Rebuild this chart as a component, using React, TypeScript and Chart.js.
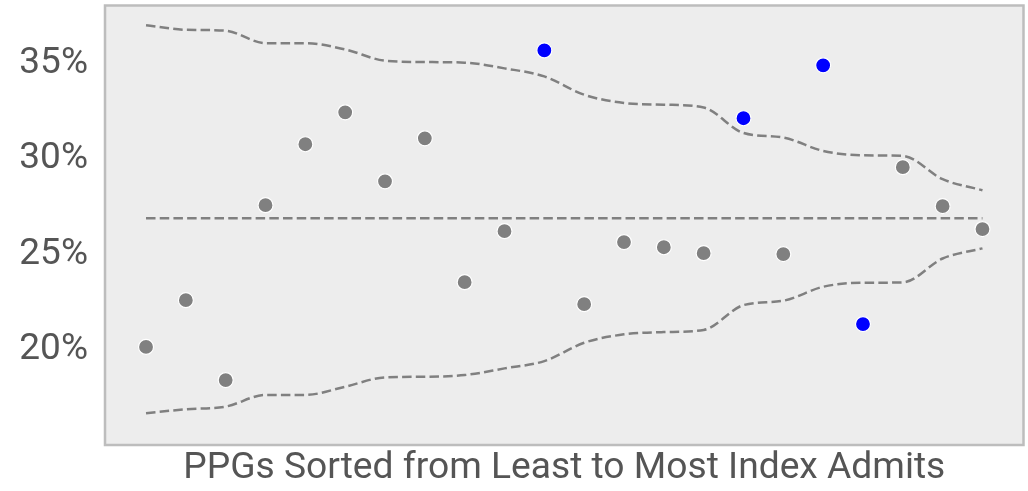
import React, { useEffect, useRef } from "react";
import { Chart, registerables } from "chart.js";

Chart.register(...registerables);

const rates = [
  20.16, 22.61, 18.43, 27.58, 30.77, 32.44, 28.83, 31.08, 23.55, 26.22, 35.68,
  22.4, 25.65, 25.38, 25.07, 32.13, 25.02, 34.9, 21.36, 29.57, 27.53, 26.33,
];
const upperLimit = [
  37.0, 36.76, 36.71, 36.06, 36.06, 35.73, 35.14, 35.07, 35.04, 34.74, 34.32,
  33.36, 32.93, 32.84, 32.69, 31.36, 31.12, 30.42, 30.19, 30.16, 28.94, 28.36,
];
const lowerLimit = [
  16.69, 16.9, 17.04, 17.65, 17.65, 18.08, 18.57, 18.6, 18.69, 19.04, 19.42,
  20.38, 20.82, 20.94, 21.05, 22.35, 22.58, 23.31, 23.52, 23.54, 24.79, 25.32,
];
const centerLine = 26.9;
const yTicks = [20, 25, 30, 35];
const xTitle = "PPGs Sorted from Least to Most Index Admits";

const AREA = { left: 105, right: 1023.5, top: 5.5, bottom: 445 };

const fixArea = {
  id: "fixArea",
  afterLayout(chart: any) {
    const a = chart.chartArea;
    a.left = AREA.left;
    a.right = AREA.right;
    a.top = AREA.top;
    a.bottom = AREA.bottom;
    a.width = AREA.right - AREA.left;
    a.height = AREA.bottom - AREA.top;
    const x = chart.scales.x;
    x.left = AREA.left;
    x.right = AREA.right;
    x.width = a.width;
    x.top = AREA.bottom;
    x.bottom = 491;
    x.height = 491 - AREA.bottom;
    x.configure();
    const y = chart.scales.y;
    y.left = 0;
    y.right = AREA.left;
    y.width = AREA.left;
    y.top = AREA.top;
    y.bottom = AREA.bottom;
    y.height = a.height;
    y.configure();
  },
};

const frame = {
  id: "frame",
  beforeDraw(chart: any) {
    const { ctx, chartArea: a } = chart;
    ctx.save();
    ctx.fillStyle = "#ededed";
    ctx.fillRect(a.left, a.top, a.right - a.left, a.bottom - a.top);
    ctx.restore();
  },
  afterDraw(chart: any) {
    const { ctx, chartArea: a } = chart;
    ctx.save();
    ctx.strokeStyle = "#bdbdbd";
    ctx.lineWidth = 2.5;
    ctx.strokeRect(a.left, a.top, a.right - a.left, a.bottom - a.top);
    ctx.restore();
  },
};

export default function App() {
  const ref = useRef<HTMLCanvasElement>(null);
  useEffect(() => {
    const pts = rates.map((v, i) => ({ x: i, y: v }));
    const colors = rates.map((v, i) =>
      v > upperLimit[i] || v < lowerLimit[i] ? "#0000ff" : "#808080"
    );
    const lineDs = (vals: number[]) => ({
      type: "line" as const,
      data: vals.map((v, i) => ({ x: i, y: v })),
      borderColor: "#808080",
      borderWidth: 2.5,
      borderDash: [9.5, 4.2],
      pointRadius: 0,
      fill: false,
      cubicInterpolationMode: "monotone" as const,
      order: 2,
    });
    const chart = new Chart(ref.current!, {
      type: "scatter",
      data: {
        datasets: [
          {
            data: pts,
            pointRadius: 7.5,
            pointBackgroundColor: colors,
            pointBorderColor: "#ffffff",
            pointBorderWidth: 1.2,
            order: 1,
          } as any,
          lineDs(upperLimit),
          lineDs(lowerLimit),
          lineDs(rates.map(() => centerLine)),
        ],
      },
      options: {
        animation: false,
        responsive: false,
        layout: { padding: { top: 5.5, right: 4.5, left: 0, bottom: 0 } },
        plugins: { legend: { display: false }, tooltip: { enabled: false } },
        scales: {
          x: {
            type: "linear",
            min: -1.03,
            max: 22.03,
            grid: { display: false, drawTicks: false },
            border: { display: false },
            ticks: { display: false },
            title: {
              display: true,
              text: xTitle,
              color: "#555555",
              font: { family: "Roboto", size: 37.2 },
              padding: { top: 0, bottom: 0 },
            },
            afterFit(s: any) {
              s.height = 46;
              s.paddingLeft = 0;
              s.paddingRight = 0;
            },
          },
          y: {
            min: 15.03,
            max: 38.03,
            grid: { display: false, drawTicks: false },
            border: { display: false },
            afterBuildTicks(s: any) {
              s.ticks = yTicks.map((v) => ({ value: v }));
            },
            ticks: {
              padding: 17,
              color: "#555555",
              font: { family: "Roboto", size: 37 },
              callback: (v: any) => `${v}%`,
            },
            afterFit(s: any) {
              s.width = 105;
              s.paddingTop = 0;
              s.paddingBottom = 0;
            },
          },
        },
      },
      plugins: [fixArea, frame],
    });
    return () => chart.destroy();
  }, []);
  return (
    <div style={{ position: "fixed", left: 0, top: 0, width: 1028, height: 491 }}>
      <canvas ref={ref} width={1028} height={491} />
    </div>
  );
}
